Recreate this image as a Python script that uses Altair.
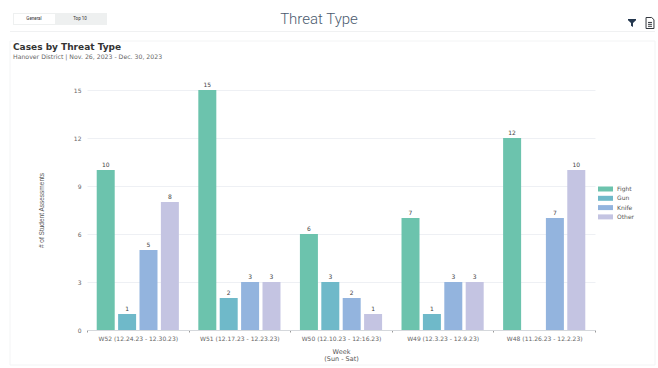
import altair as alt
import pandas as pd

weeks = ["W52 (12.24.23 - 12.30.23)", "W51 (12.17.23 - 12.23.23)", "W50 (12.10.23 - 12:16.23)",
         "W49 (12.3.23 - 12.9.23)", "W48 (11.26.23 - 12.2.23)"]
threats = ["Fight", "Gun", "Knife", "Other"]
colors = ["#6cc3ad", "#6fb9c9", "#93b4de", "#c4c4e2"]
fight = [10, 15, 6, 7, 12]
gun = [1, 2, 3, 1, None]
knife = [5, 3, 2, 3, 7]
other = [8, 3, 1, 3, 10]

rows = []
for name, series in zip(threats, [fight, gun, knife, other]):
    for week, value in zip(weeks, series):
        if value is not None:
            rows.append({"week": week, "threat": name, "cases": value})
df = pd.DataFrame(rows)

x_enc = alt.X("week:N", sort=weeks, scale=alt.Scale(paddingInner=0, paddingOuter=0),
              axis=alt.Axis(title=["Week", "(Sun - Sat)"], labelAngle=0, labelFont="DejaVu Sans",
                            labelFontSize=6, labelColor="#666666", labelPadding=3, labelLimit=120,
                            tickBand="extent", tickSize=2, tickColor="#999999", domainColor="#d5d8dc",
                            titleFont="DejaVu Sans", titleFontSize=6.5, titleFontWeight="normal",
                            titleColor="#555555", titlePadding=7, titleLineHeight=7))
y_enc = alt.Y("cases:Q", scale=alt.Scale(domain=[0, 15], nice=False),
              axis=alt.Axis(values=[0, 3, 6, 9, 12, 15], title="# of Student Assessments",
                            titleFont="Liberation Sans", titleFontSize=6.5, titleFontWeight="normal",
                            titleColor="#555555", titleX=-43, titleY=120, labelFont="DejaVu Sans",
                            labelFontSize=6, labelColor="#666666", labelPadding=6, tickSize=0,
                            domain=False, gridColor="#eef0f4", gridWidth=1))
offset_enc = alt.XOffset("threat:N", sort=threats,
                         scale=alt.Scale(domain=threats, paddingInner=0.16, paddingOuter=0.455))

# The swatch path is wider than its nominal symbol size so it does not stretch the legend rows.
bars = alt.Chart(df).mark_bar(size=18).encode(
    x=x_enc, y=y_enc, xOffset=offset_enc,
    color=alt.Color("threat:N", sort=threats, scale=alt.Scale(domain=threats, range=colors),
                    legend=alt.Legend(title=None, orient="none", legendX=515.5, legendY=96,
                                      symbolType="M-3.75,-1.25H3.75V1.25H-3.75Z", symbolSize=16,
                                      symbolStrokeWidth=0, labelFont="DejaVu Sans", labelFontSize=6,
                                      labelColor="#555555", rowPadding=3.3, labelOffset=8.5)),
)
bar_labels = alt.Chart(df).mark_text(dy=-5, font="DejaVu Sans", fontSize=6, color="#444444").encode(
    x=alt.X("week:N", sort=weeks), y="cases:Q", xOffset=offset_enc, text="cases:Q",
)


def label(text, x, y, **style):
    return alt.Chart(pd.DataFrame({"t": [text]})).mark_text(**style).encode(
        x=alt.value(x), y=alt.value(y), text="t:N")


def box(x, x2, y, y2, **style):
    return alt.Chart(pd.DataFrame({"a": [0]})).mark_rect(**style).encode(
        x=alt.value(x), x2=alt.value(x2), y=alt.value(y), y2=alt.value(y2))


def icon(path, x, y, **style):
    return alt.Chart(pd.DataFrame({"a": [0]})).mark_point(shape=path, **style).encode(
        x=alt.value(x), y=alt.value(y))


# Card outline, page header and the tab switcher; offsets are from the plot's top-left corner.
OX, OY = 87, 90
card = box(10 - OX, 655 - OX, 41 - OY, 365 - OY, fill="transparent", stroke="#f3f4f5", strokeWidth=1)
header_rule = box(10 - OX, 655 - OX, 31 - OY, 32 - OY, fill="#f0f1f2")
tab_off = box(13 - OX, 107 - OX, 13 - OY, 25 - OY, fill="#eef0f0")
tab_on = box(14 - OX, 55 - OX, 14 - OY, 24 - OY, fill="#ffffff")

texts = [
    label("General", 34 - OX, 19 - OY, font="Roboto", fontSize=4.5, color="#333333"),
    label("Top 10", 80 - OX, 19 - OY, font="Roboto", fontSize=4.5, color="#333333"),
    label("Threat Type", 319 - OX, 19 - OY, font="Roboto", fontSize=15, fontWeight=300, color="#4a5a6e"),
    label("Cases by Threat Type", 13 - OX, 47 - OY, align="left", font="DejaVu Sans", fontSize=9,
          fontWeight="bold", color="#333333"),
    label("Hanover District | Nov. 26, 2023 - Dec. 30, 2023", 13 - OX, 57 - OY, align="left",
          font="DejaVu Sans", fontSize=6.2, color="#666666"),
]

funnel = icon("M-1,-1H1V-0.7L0.25,0V1L-0.25,0.7V0L-1,-0.7Z", 632 - OX, 23 - OY,
              size=64, filled=True, fill="#25384f", opacity=1)
doc = icon("M-0.72,-1H0.3L0.72,-0.6V1H-0.72Z M-0.36,-0.1H0.36 M-0.36,0.24H0.36 M-0.36,0.6H0.36", 650 - OX, 23 - OY,
           size=121, filled=False, stroke="#33373d", strokeWidth=1, opacity=1)

chart = alt.layer(card, header_rule, tab_off, tab_on, *texts, funnel, doc, bars, bar_labels).resolve_scale(
    x="shared", y="shared"
).properties(
    width=508, height=240, background="#ffffff",
    autosize=alt.AutoSizeParams(type="none"),
    padding={"left": OX, "top": OY, "right": 63, "bottom": 38},
).configure_view(stroke=None)

chart.save("out.html", embed_options={"renderer": "svg", "actions": False})
